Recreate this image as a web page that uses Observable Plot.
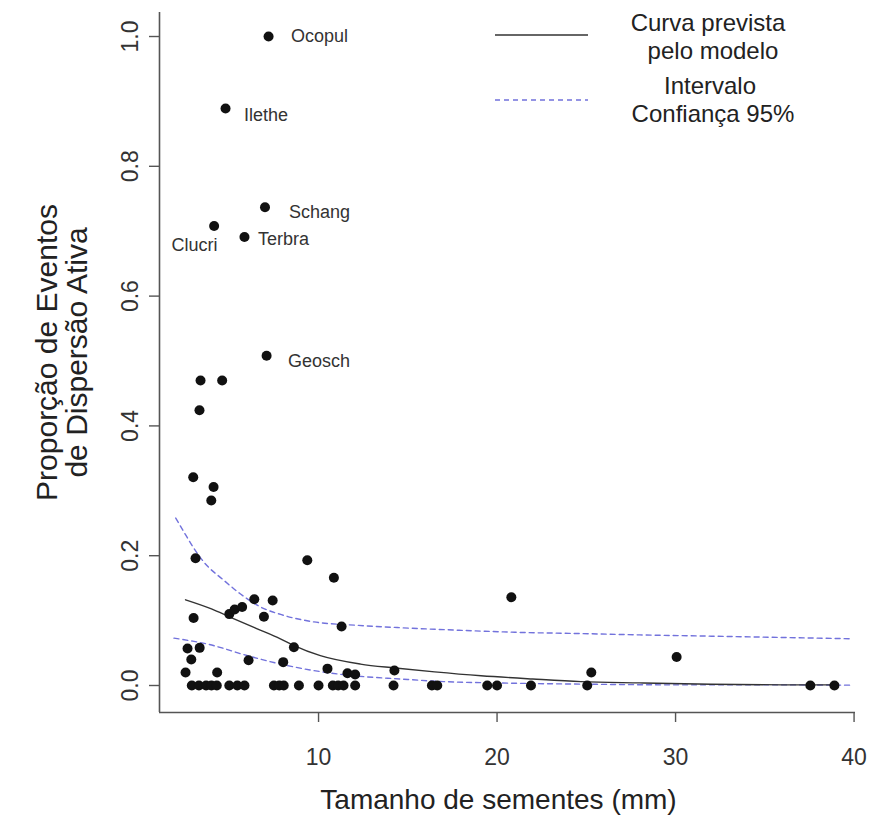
<!DOCTYPE html>
<html><head><meta charset="utf-8">
<script src="https://cdn.jsdelivr.net/npm/d3@7"></script>
<script src="https://cdn.jsdelivr.net/npm/@observablehq/plot@0.6"></script>
<style>
body{margin:0;background:#fff;font-family:"Liberation Sans",Arial,Helvetica,sans-serif;}
#wrap{position:relative;width:870px;height:832px;}
#legend{position:absolute;left:0;top:0;pointer-events:none;}
</style></head><body><div id="wrap"></div>
<script>
// Observed species: seed size (mm) and proportion of active dispersal events
const seedSize = [
  7.2, 4.79, 7.0, 4.15, 5.85, 7.09,
  3.39, 4.6, 3.33, 2.98, 4.12, 3.99,
  3.11, 9.37, 10.86, 20.8,
  6.4, 7.43, 5.0, 5.3, 5.72, 6.94, 3.0, 11.29,
  2.66, 3.34, 8.62, 2.87, 6.08, 8.02,
  30.06,
  2.55, 4.32, 10.5, 11.62, 12.05, 14.25, 25.28,
  2.9, 3.3, 3.7, 4.0, 4.3, 5.0, 5.45, 5.85, 7.5, 7.8, 8.05, 8.9, 10.0,
  10.8, 11.1, 11.4, 12.05, 14.2, 16.35, 16.65, 19.45, 20.0, 21.9, 25.05, 37.55, 38.9
];
const propActive = [
  1.0, 0.889, 0.737, 0.708, 0.691, 0.508,
  0.470, 0.470, 0.424, 0.321, 0.306, 0.285,
  0.196, 0.193, 0.166, 0.136,
  0.133, 0.131, 0.110, 0.117, 0.121, 0.106, 0.104, 0.091,
  0.057, 0.058, 0.059, 0.040, 0.039, 0.036,
  0.044,
  0.020, 0.020, 0.026, 0.019, 0.017, 0.023, 0.020,
  0, 0, 0, 0, 0, 0, 0, 0, 0, 0, 0, 0, 0,
  0, 0, 0, 0, 0, 0, 0, 0, 0, 0, 0, 0, 0
];
// species labels (placed like R text(x, y, labels))
const labelNames = ["Ocopul", "Ilethe", "Schang", "Clucri", "Terbra", "Geosch"];
const labelX = [10.05, 7.06, 10.05, 3.05, 8.04, 10.03];
const labelY = [1.0, 0.878, 0.729, 0.678, 0.687, 0.499];
// model prediction curve
const curveX = [2.55, 4.0, 5.07, 6.5, 7.86, 8.6, 10.1, 12.35, 14.3, 16.5, 19.1, 22, 24.7, 28, 32, 36, 38.9];
const curveY = [0.132, 0.118, 0.105, 0.088, 0.072, 0.062, 0.046, 0.033, 0.027, 0.021, 0.015, 0.010, 0.006, 0.004, 0.002, 0.001, 0.001];
// 95% confidence interval
const upperX = [2.0, 2.6, 3.0, 3.58, 4.7, 5.63, 6.75, 8.06, 9.74, 12.0, 14.6, 18, 21, 24.7, 28, 32, 36, 39.8];
const upperY = [0.258, 0.230, 0.212, 0.190, 0.162, 0.141, 0.121, 0.108, 0.098, 0.093, 0.089, 0.085, 0.082, 0.080, 0.078, 0.076, 0.074, 0.072];
const lowerX = [1.9, 2.8, 3.76, 4.7, 5.63, 6.7, 7.87, 9.74, 11.98, 14.6, 17, 20, 25, 30, 35, 39.8];
const lowerY = [0.073, 0.069, 0.064, 0.057, 0.049, 0.041, 0.033, 0.023, 0.015, 0.010, 0.006, 0.004, 0.002, 0.001, 0.001, 0.0005];
// axes
const xTicks = [10, 20, 30, 40];
const yTicks = [0, 0.2, 0.4, 0.6, 0.8, 1.0];
const xDomain = [1.09, 40.08];
const yDomain = [-0.0416, 1.037];
const xTitle = "Tamanho de sementes (mm)";
const yTitle = "Proporção de Eventos\nde Dispersão Ativa";
const legendLabels = ["Curva prevista", "pelo modelo", "Intervalo", "Confiança 95%"];

const pts = seedSize.map((x, i) => ({x, y: propActive[i]}));
const curve = curveX.map((x, i) => ({x, y: curveY[i]}));
const upper = upperX.map((x, i) => ({x, y: upperY[i]}));
const lower = lowerX.map((x, i) => ({x, y: lowerY[i]}));

const ciColor = "#7272dc";
const plot = Plot.plot({
  width: 870, height: 832,
  marginLeft: 159, marginRight: 15, marginTop: 12, marginBottom: 120,
  style: {fontFamily: '"Liberation Sans", Arial, Helvetica, sans-serif', background: "#fff"},
  x: {domain: xDomain, label: null},
  y: {domain: yDomain, label: null},
  marks: [
    Plot.ruleX([xDomain[0]], {stroke: "#555", strokeWidth: 1.6}),
    Plot.ruleY([yDomain[0]], {stroke: "#555", strokeWidth: 1.6}),
    Plot.axisX(xTicks, {tickSize: 10, tickPadding: 26, fontSize: 23, stroke: "#555", fill: "#333", strokeWidth: 1.4, label: null, tickFormat: d => String(d)}),
    Plot.axisY(yTicks, {tickSize: 10, tickPadding: 12, tickRotate: -90, fontSize: 23, stroke: "#555", fill: "#333", strokeWidth: 1.4, label: null, tickFormat: d3.format(".1f")}),
    Plot.line(upper, {x: "x", y: "y", stroke: ciColor, strokeWidth: 1.4, strokeDasharray: "5,4", curve: "monotone-x"}),
    Plot.line(lower, {x: "x", y: "y", stroke: ciColor, strokeWidth: 1.4, strokeDasharray: "5,4", curve: "monotone-x"}),
    Plot.line(curve, {x: "x", y: "y", stroke: "#333", strokeWidth: 1.4, curve: "monotone-x"}),
    Plot.dot(pts, {x: "x", y: "y", r: 5, fill: "#111", stroke: null}),
    Plot.text(labelNames, {x: labelX, y: labelY, text: d => d, fontSize: 18, fill: "#333"}),
    Plot.text([xTitle], {text: d => d, frameAnchor: "bottom", textAnchor: "middle", lineAnchor: "middle", dx: -9, dy: 88, fontSize: 28, fill: "#222"}),
    Plot.text([yTitle], {text: d => d, frameAnchor: "left", textAnchor: "middle", lineAnchor: "middle", rotate: -90, dx: -97, dy: -10, fontSize: 30, lineHeight: 1.0, fill: "#222"})
  ]
});
const wrap = document.getElementById("wrap");
wrap.appendChild(plot);

// legend overlay
const ns = "http://www.w3.org/2000/svg";
const lg = document.createElementNS(ns, "svg");
lg.setAttribute("id", "legend");
lg.setAttribute("width", 870); lg.setAttribute("height", 160);
function line(x1, x2, y, stroke, dash) {
  const l = document.createElementNS(ns, "line");
  l.setAttribute("x1", x1); l.setAttribute("x2", x2);
  l.setAttribute("y1", y); l.setAttribute("y2", y);
  l.setAttribute("stroke", stroke); l.setAttribute("stroke-width", 1.4);
  if (dash) l.setAttribute("stroke-dasharray", dash);
  lg.appendChild(l);
}
function txt(s, x, y) {
  const t = document.createElementNS(ns, "text");
  t.setAttribute("x", x); t.setAttribute("y", y);
  t.setAttribute("text-anchor", "middle");
  t.setAttribute("font-size", 24);
  t.setAttribute("fill", "#222");
  t.setAttribute("font-family", '"Liberation Sans", Arial, sans-serif');
  t.textContent = s;
  lg.appendChild(t);
}
line(495, 588, 35, "#333");
line(495, 588, 100, ciColor, "5,4");
txt(legendLabels[0], 708, 31);
txt(legendLabels[1], 713, 59);
txt(legendLabels[2], 710, 94);
txt(legendLabels[3], 713, 122);
wrap.appendChild(lg);
</script></body></html>
